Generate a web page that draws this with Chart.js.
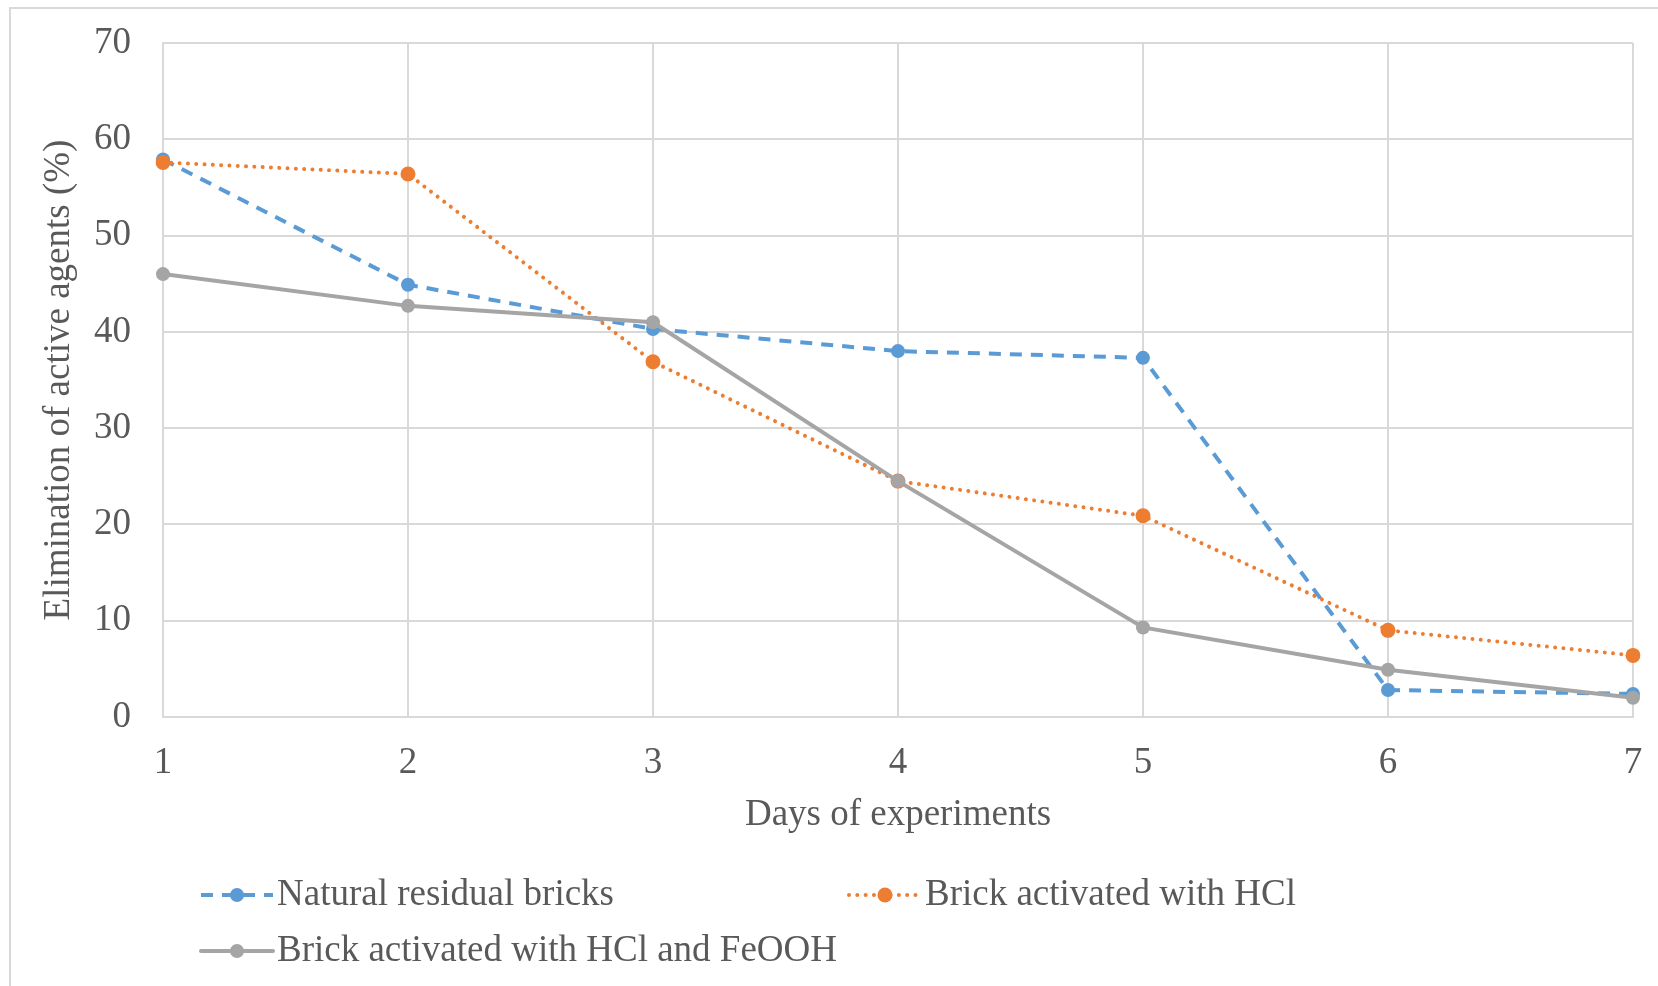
<!DOCTYPE html>
<html>
<head>
<meta charset="utf-8">
<script src="https://cdn.jsdelivr.net/npm/chart.js@4.4.1/dist/chart.umd.min.js"></script>
<style>
  html, body { margin: 0; padding: 0; background: #fff; overflow: hidden; }
  #wrap { position: relative; width: 1658px; height: 986px; }
  #frame {
    position: absolute; left: 9px; top: 7px; width: 1700px; height: 1100px;
    border: 2px solid #d9d9d9; box-sizing: border-box; pointer-events: none;
  }
  canvas { position: absolute; left: 0; top: 0; }
</style>
</head>
<body>
<div id="wrap">
  <canvas id="chart1" width="1658" height="986"></canvas>
  <div id="frame"></div>
</div>
<script>
// days on the x axis
const days = ['1', '2', '3', '4', '5', '6', '7'];

// elimination (%) per day for each material
const naturalBricks = [57.9, 44.9, 40.3, 38.0, 37.3, 2.8, 2.4];
const hclBricks = [57.6, 56.4, 36.9, 24.5, 20.9, 9.0, 6.4];
const hclFeoohBricks = [46.0, 42.7, 41.0, 24.5, 9.3, 4.9, 2.0];

const seriesNames = [
  'Natural residual bricks',
  'Brick activated with HCl',
  'Brick activated with HCl and FeOOH'
];

const yMin = 0, yMax = 70, yStep = 10;

const FONT = '"Liberation Serif", "Times New Roman", serif';
const TEXT = '#595959';
const GRID = '#d9d9d9';

// legend drawn in Excel style: two columns, wrapping rows
const excelLegend = {
  id: 'excelLegend',
  afterDraw(chart) {
    const ctx = chart.ctx;
    const cols = [201, 849];
    const rows = [895, 951];
    const sampleW = 72;
    chart.data.datasets.forEach((ds, i) => {
      const x = cols[i % 2];
      const y = rows[Math.floor(i / 2)];
      ctx.save();
      ctx.strokeStyle = ds.borderColor;
      ctx.lineWidth = ds.borderWidth;
      ctx.lineCap = ds.borderCapStyle || 'butt';
      ctx.setLineDash(ds.borderDash || []);
      ctx.beginPath();
      ctx.moveTo(x, y);
      ctx.lineTo(x + sampleW, y);
      ctx.stroke();
      ctx.setLineDash([]);
      ctx.fillStyle = ds.pointBackgroundColor;
      ctx.beginPath();
      ctx.arc(x + sampleW / 2, y, ds.pointRadius, 0, Math.PI * 2);
      ctx.fill();
      ctx.fillStyle = TEXT;
      ctx.font = '37px ' + FONT;
      ctx.textBaseline = 'middle';
      ctx.textAlign = 'left';
      ctx.fillText(ds.label, x + sampleW + 4, y);
      ctx.restore();
    });
  }
};

const ctx = document.getElementById('chart1');

new Chart(ctx, {
  type: 'line',
  data: {
    labels: days,
    datasets: [
      {
        label: seriesNames[0],
        data: naturalBricks,
        borderColor: '#5b9bd5',
        pointBackgroundColor: '#5b9bd5',
        borderWidth: 4,
        borderDash: [12, 9],
        borderCapStyle: 'butt',
        pointRadius: 7,
        pointBorderWidth: 0,
        order: 3
      },
      {
        label: seriesNames[1],
        data: hclBricks,
        borderColor: '#ed7d31',
        pointBackgroundColor: '#ed7d31',
        borderWidth: 4,
        borderDash: [0.01, 8.3],
        borderCapStyle: 'round',
        pointRadius: 7.5,
        pointBorderWidth: 0,
        order: 2
      },
      {
        label: seriesNames[2],
        data: hclFeoohBricks,
        borderColor: '#a5a5a5',
        pointBackgroundColor: '#a5a5a5',
        borderWidth: 4,
        borderCapStyle: 'round',
        pointRadius: 7,
        pointBorderWidth: 0,
        order: 1
      }
    ]
  },
  options: {
    responsive: false,
    animation: false,
    tension: 0,
    layout: { padding: { left: 37, top: 43, right: 25, bottom: 149 } },
    plugins: {
      legend: { display: false },
      tooltip: { enabled: false }
    },
    scales: {
      x: {
        type: 'category',
        offset: false,
        grid: { color: GRID, lineWidth: 2, drawTicks: false },
        border: { color: GRID, width: 2 },
        ticks: {
          color: TEXT, padding: 24, maxRotation: 0,
          font: { family: FONT, size: 37, lineHeight: 1.2 }
        },
        title: {
          display: true, text: 'Days of experiments', color: TEXT,
          padding: { top: 3, bottom: 0 },
          font: { family: FONT, size: 37, lineHeight: 1.2 }
        },
        afterFit(scale) {
          scale.height = 120;
          scale.paddingLeft = 0;
          scale.paddingRight = 0;
        }
      },
      y: {
        min: yMin, max: yMax,
        grid: { color: GRID, lineWidth: 2, drawTicks: false },
        border: { color: GRID, width: 2 },
        ticks: {
          stepSize: yStep, color: TEXT, padding: 32,
          font: { family: FONT, size: 37, lineHeight: 1.2 }
        },
        title: {
          display: true, text: 'Elimination of active agents (%)', color: TEXT,
          padding: { top: 0, bottom: 0 },
          font: { family: FONT, size: 37, lineHeight: 1.2 }
        },
        afterFit(scale) {
          scale.width = 126;
          scale.paddingTop = 0;
          scale.paddingBottom = 0;
        }
      }
    }
  },
  plugins: [excelLegend]
});
</script>
</body>
</html>
